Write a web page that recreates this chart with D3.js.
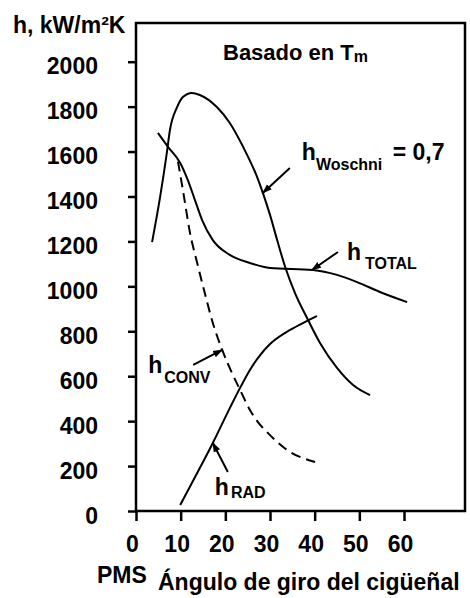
<!DOCTYPE html>
<html>
<head>
<meta charset="utf-8">
<script src="https://cdnjs.cloudflare.com/ajax/libs/d3/7.8.5/d3.min.js"></script>
<style>
  html, body { margin: 0; padding: 0; background: #fff; }
  svg { display: block; font-family: "Liberation Sans", Arial, sans-serif; font-weight: bold; }
</style>
</head>
<body>
<svg id="chart" width="470" height="598"></svg>
<script>
// crank angle (deg after TDC) vs heat transfer coefficient
const xTicks = [0, 10, 20, 30, 40, 50, 60];
const yTicks = [0, 200, 400, 600, 800, 1000, 1200, 1400, 1600, 1800, 2000];

const woschni = [[3.6, 1197], [5.4, 1398], [6.9, 1594], [7.6, 1696], [9.2, 1798], [10.5, 1843],
  [12.5, 1861], [14.3, 1852], [18.1, 1798], [21.0, 1727], [24.0, 1620], [27.1, 1487],
  [28.4, 1416], [30.0, 1318], [31.6, 1206], [33.4, 1086], [35.6, 970], [38.3, 859],
  [41.2, 748], [45.0, 637], [48.6, 561], [52.4, 516]];
const total = [[4.9, 1683], [7.2, 1620], [9.9, 1549], [11.6, 1473], [13.2, 1384], [14.8, 1295],
  [17.2, 1206], [21.0, 1140], [25.5, 1104], [30.0, 1082], [39.6, 1073],
  [45.0, 1051], [49.5, 1019], [54.6, 975], [60.7, 930]];
const conv = [[9.4, 1555], [10.5, 1429], [12.1, 1237], [13.7, 1104], [15.4, 970], [17.2, 837],
  [19.3, 717], [21.5, 614], [23.3, 539], [25.5, 450], [27.3, 396], [29.3, 352],
  [33.8, 272], [40.1, 218]];
const rad = [[9.9, 27], [13.7, 169], [17.2, 303], [21.0, 458], [23.3, 548], [25.5, 628],
  [27.8, 694], [30.0, 743], [34.5, 806], [38.3, 846], [40.5, 868]];

// leader arrows: tip on the curve (data), tail and label as pixel offsets from the tip
const notes = [
  { tip: [28.4, 1416], tail: [27, -25], label: [39, -33], sub: "Woschni", subDy: 10, rest: " = 0,7" },
  { tip: [39.4, 1073], tail: [26, -18], label: [35, -10], sub: "TOTAL", subDy: 9, subDx: 4 },
  { tip: [19.3, 717], tail: [-29, 15], label: [-74, 23], sub: "CONV", subDy: 10, subDx: 2 },
  { tip: [17.2, 303], tail: [15, 29], label: [2, 52], sub: "RAD", subDy: 3, subDx: 2 }
];

const svg = d3.select("#chart");
const plotL = 136, plotR = 465, plotT = 23, plotB = 511;

const x = d3.scaleLinear().domain([0, 60]).range([plotL, 404]);
const y = d3.scaleLinear().domain([0, 2000]).range([plotB, 61.7]);

svg.append("rect").attr("width", 470).attr("height", 598).attr("fill", "#fff");

svg.append("defs").append("marker")
  .attr("id", "arrow")
  .attr("viewBox", "0 -4 10 8")
  .attr("refX", 9)
  .attr("refY", 0)
  .attr("markerUnits", "userSpaceOnUse")
  .attr("markerWidth", 10)
  .attr("markerHeight", 8)
  .attr("orient", "auto")
  .append("path")
  .attr("d", "M0,-3.5L10,0L0,3.5Z")
  .attr("fill", "#000");

// frame
svg.append("rect")
  .attr("x", plotL).attr("y", plotT)
  .attr("width", plotR - plotL).attr("height", plotB - plotT)
  .attr("fill", "none").attr("stroke", "#000").attr("stroke-width", 2.5);

const yAxis = svg.append("g")
  .attr("transform", `translate(${plotL},0)`)
  .call(d3.axisLeft(y).tickValues(yTicks).tickSize(8).tickPadding(30).tickFormat(d3.format("d")));
yAxis.select(".domain").remove();
yAxis.selectAll("line").attr("stroke-width", 2.5);
yAxis.selectAll("text")
  .attr("dy", "0.53em")
  .attr("font-size", 23)
  .attr("font-family", "Liberation Sans, Arial, sans-serif")
  .attr("font-weight", "bold")
  .attr("fill", "#000");

const xAxis = svg.append("g")
  .attr("transform", `translate(0,${plotB})`)
  .call(d3.axisBottom(x).tickValues(xTicks).tickSize(10).tickPadding(15));
xAxis.select(".domain").remove();
xAxis.selectAll("line").attr("stroke-width", 2.5);
xAxis.selectAll("text")
  .attr("dx", -4)
  .attr("font-size", 23)
  .attr("font-family", "Liberation Sans, Arial, sans-serif")
  .attr("font-weight", "bold")
  .attr("fill", "#000");

const line = d3.line()
  .x(d => x(d[0]))
  .y(d => y(d[1]))
  .curve(d3.curveMonotoneX);

const curves = [
  { data: woschni, dash: null },
  { data: total, dash: null },
  { data: rad, dash: null },
  { data: conv, dash: "10,6" }
];

svg.append("g")
  .selectAll("path")
  .data(curves)
  .enter()
  .append("path")
  .attr("d", d => line(d.data))
  .attr("fill", "none")
  .attr("stroke", "#000")
  .attr("stroke-width", 2)
  .attr("stroke-dasharray", d => d.dash);

// annotations
const ann = svg.append("g")
  .selectAll("g")
  .data(notes)
  .enter()
  .append("g")
  .attr("transform", d => `translate(${x(d.tip[0])},${y(d.tip[1])})`);

ann.append("line")
  .attr("x1", d => d.tail[0])
  .attr("y1", d => d.tail[1])
  .attr("x2", 0)
  .attr("y2", 0)
  .attr("stroke", "#000")
  .attr("stroke-width", 2)
  .attr("marker-end", "url(#arrow)");

const lbl = ann.append("text")
  .attr("x", d => d.label[0])
  .attr("y", d => d.label[1])
  .attr("font-size", 23)
  .attr("fill", "#000");
lbl.append("tspan").text("h");
lbl.append("tspan")
  .attr("font-size", 16)
  .attr("dx", d => d.subDx || 0)
  .attr("dy", d => d.subDy)
  .text(d => d.sub);
lbl.filter(d => d.rest)
  .append("tspan")
  .attr("dy", d => -d.subDy)
  .attr("dx", 4)
  .text(d => d.rest);

// titles
const title = svg.append("text")
  .attr("x", 223).attr("y", 60)
  .attr("font-size", 22)
  .attr("fill", "#000");
title.append("tspan").text("Basado en T");
title.append("tspan").attr("font-size", 16).attr("dy", 2).text("m");

svg.append("text")
  .attr("x", 13).attr("y", 33)
  .attr("font-size", 23)
  .attr("fill", "#000")
  .text("h, kW/m²K");

svg.append("text")
  .attr("x", 97).attr("y", 583)
  .attr("font-size", 23)
  .attr("fill", "#000")
  .text("PMS");

svg.append("text")
  .attr("x", 158).attr("y", 590)
  .attr("font-size", 23)
  .attr("fill", "#000")
  .text("Ángulo de giro del cigüeñal");
</script>
</body>
</html>
